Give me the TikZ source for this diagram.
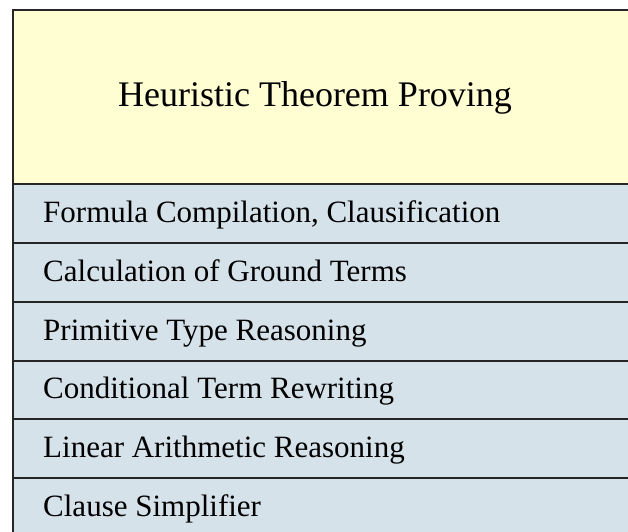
\documentclass[tikz,border=0pt]{standalone}
\usepackage{fontspec}
\setmainfont{Liberation Serif}
\usetikzlibrary{positioning}
\definecolor{headyellow}{RGB}{255,253,210}
\definecolor{rowblue}{RGB}{214,226,234}

\begin{document}
\begin{tikzpicture}[x=1pt, y=-1pt,
  layer/.style={anchor=base west, inner sep=0pt, font=\fontsize{31}{36}\selectfont},
  rule/.style={line width=2pt, draw=black!85}]
\useasboundingbox (0,0) rectangle (628,531);
% panels
\fill[headyellow] (13,10) rectangle (640,184);
\fill[rowblue] (13,184) rectangle (640,545);
% frame and separators
\draw[rule] (640,10) -- (13,10) -- (13,545);
\foreach \y in {184,243,301.8,360.6,419.4,478} {%
  \draw[rule] (13,\y) -- (640,\y);}
% title
\node[font=\fontsize{36}{42}\selectfont, inner sep=0pt, anchor=base] (title) at (315,106.5) {Heuristic Theorem Proving};
% layers
\node[layer] (clausify) at (43,222.5) {Formula Compilation, Clausification};
\node[layer] (ground) at (43,281.3) {Calculation of Ground Terms};
\node[layer] (types) at (43,340.1) {Primitive Type Reasoning};
\node[layer] (rewrite) at (43,398.9) {Conditional Term Rewriting};
\node[layer] (arith) at (43,457.7) {Linear Arithmetic Reasoning};
\node[layer] (simp) at (43,516.5) {Clause Simplifier};
\end{tikzpicture}
\end{document}
